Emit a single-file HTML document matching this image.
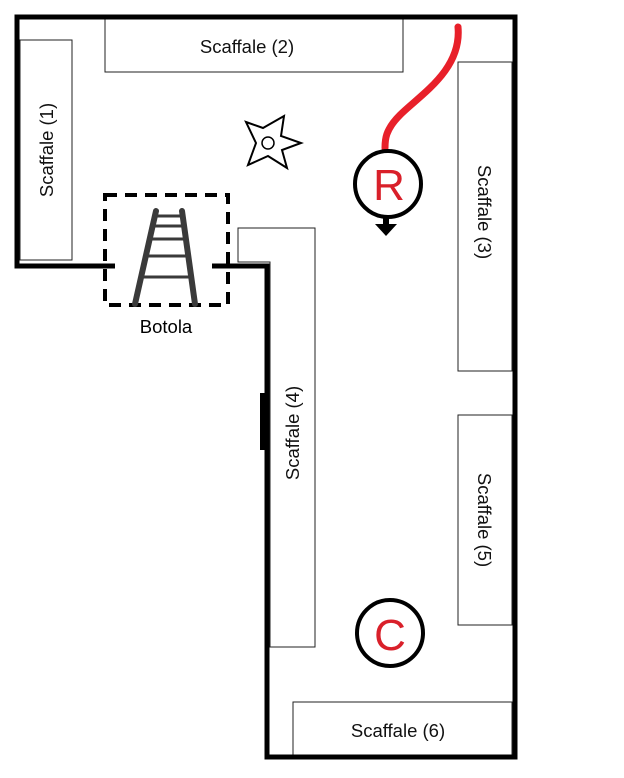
<!DOCTYPE html>
<html><head><style>body{margin:0;background:#fff}svg{display:block}text{font-family:"Liberation Sans",sans-serif}</style></head>
<body>
<svg width="624" height="778" viewBox="0 0 624 778" xmlns="http://www.w3.org/2000/svg">
<rect width="624" height="778" fill="#fff"/>
<g fill="#fff" stroke="#222" stroke-width="1">
<rect x="20" y="40" width="52" height="220"/>
<rect x="105" y="18" width="298" height="54"/>
<rect x="458" y="62" width="54" height="309"/>
<path d="M238 228 H315 V647 H270 V262 H238 Z"/>
<rect x="458" y="415" width="54" height="210"/>
<rect x="293" y="702" width="219" height="55"/>
</g>
<g stroke="#000" stroke-width="5" fill="none">
<path d="M115 266 H17 V17 H515 V757 H267 V266 H212"/>
</g>
<rect x="260" y="393" width="6" height="57" fill="#000"/>
<rect x="105" y="195" width="123" height="110" fill="none" stroke="#000" stroke-width="4" stroke-dasharray="12,8"/>
<g stroke="#3a3a3a" stroke-linecap="round">
<line x1="156" y1="211" x2="135" y2="304" stroke-width="6"/>
<line x1="182" y1="211" x2="195" y2="304" stroke-width="6"/>
<g stroke-width="3">
<line x1="155" y1="216" x2="183" y2="216"/>
<line x1="153" y1="226" x2="184" y2="226"/>
<line x1="150" y1="239" x2="186" y2="239"/>
<line x1="146" y1="256" x2="188" y2="256"/>
<line x1="141" y1="277" x2="191" y2="277"/>
</g></g>
<text x="166" y="333" font-size="18.5" text-anchor="middle">Botola</text>
<g fill="none" stroke="#000" stroke-width="2">
<polygon points="246,122 263,128 284,116 281,136 301,143 282,150 287,168 268,156 248,165 256,143"/>
<circle cx="268" cy="143" r="6" stroke-width="1.5"/>
</g>
<path d="M458 27 C462 70 420 95 400 115 C385 130 385 140 385 148" fill="none" stroke="#e8202a" stroke-width="7" stroke-linecap="round"/>
<circle cx="388" cy="184" r="33" fill="#fff" stroke="#000" stroke-width="4"/>
<text x="389" y="200" font-size="44" fill="#d9202a" text-anchor="middle">R</text>
<rect x="383" y="217" width="6" height="8" fill="#000"/>
<polygon points="375,224 397,224 386,236" fill="#000"/>
<circle cx="390" cy="633" r="33" fill="#fff" stroke="#000" stroke-width="4"/>
<text x="390" y="650" font-size="44" fill="#d9202a" text-anchor="middle">C</text>
<g font-size="18.5" fill="#111" text-anchor="middle">
<text x="247" y="53">Scaffale (2)</text>
<text x="398" y="737">Scaffale (6)</text>
<text transform="translate(53,150) rotate(-90)">Scaffale (1)</text>
<text transform="translate(299,433) rotate(-90)">Scaffale (4)</text>
<text transform="translate(478,212) rotate(90)">Scaffale (3)</text>
<text transform="translate(478,520) rotate(90)">Scaffale (5)</text>
</g>
</svg>
</body></html>
